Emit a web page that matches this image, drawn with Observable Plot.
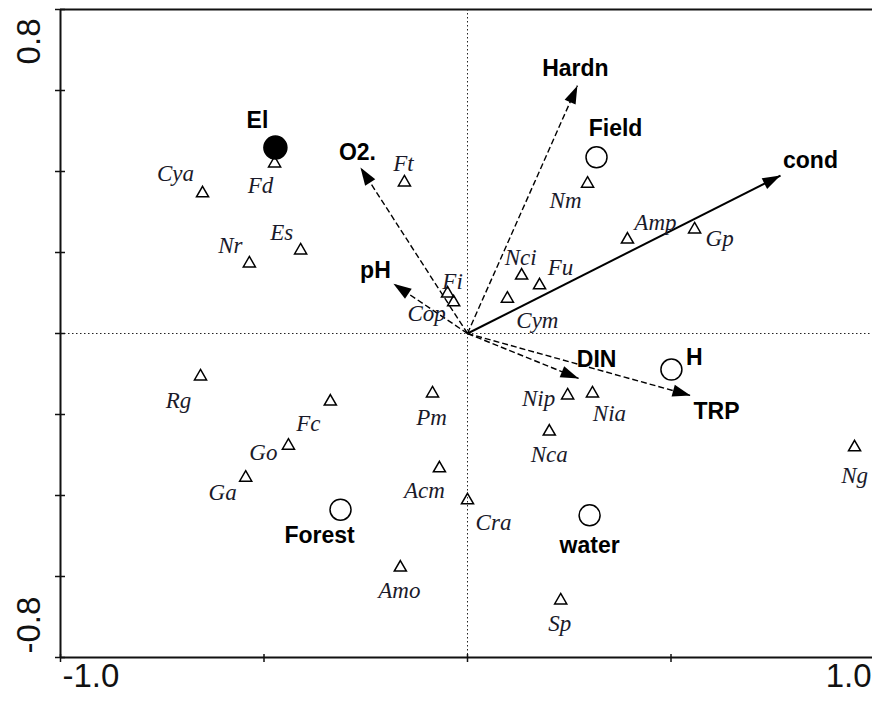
<!DOCTYPE html>
<html>
<head>
<meta charset="utf-8">
<script src="https://cdn.jsdelivr.net/npm/d3@7"></script>
<script src="https://cdn.jsdelivr.net/npm/@observablehq/plot@0.6"></script>
<style>
html, body { margin: 0; padding: 0; background: #fff; overflow: hidden; }
</style>
</head>
<body>
<div id="chart"></div>
<script>
// ---------- DATA ----------
// Species scores (axis 1, axis 2)
const speciesNames = ["Cya","Fd","Nr","Es","Ft","Fi","Cop","Nci","Fu","Cym","Nm","Amp","Gp","Rg","Fc","Go","Ga","Pm","Acm","Cra","Amo","Sp","Nip","Nia","Nca","Ng"];
const speciesAx1 = [-0.651,-0.474,-0.536,-0.410,-0.155,-0.049,-0.034,0.133,0.177,0.098,0.295,0.393,0.558,-0.656,-0.337,-0.440,-0.545,-0.086,-0.069,0.000,-0.165,0.229,0.246,0.307,0.201,0.951];
const speciesAx2 = [0.346,0.420,0.173,0.205,0.373,0.099,0.077,0.143,0.119,0.086,0.370,0.232,0.257,-0.106,-0.168,-0.277,-0.356,-0.148,-0.333,-0.412,-0.578,-0.659,-0.153,-0.148,-0.242,-0.281];

// Nominal variables (centroids)
const siteNames = ["El","Field","H","Forest","water"];
const siteAx1 = [-0.472,0.317,0.501,-0.312,0.300];
const siteAx2 = [0.459,0.435,-0.089,-0.435,-0.449];

// Environmental variables (arrow tips)
const envNames = ["cond","Hardn","O2.","pH","DIN","TRP"];
const envAx1 = [0.769,0.270,-0.263,-0.182,0.273,0.548];
const envAx2 = [0.390,0.612,0.410,0.123,-0.111,-0.153];

// Axis ticks and tick labels
const xTicks = [-1,-0.5,0,0.5,1];
const yTicks = [-0.8,-0.6,-0.4,-0.2,0,0.2,0.4,0.6,0.8];
const xTickLabelValues = [-1, 1];
const xTickLabels = ["-1.0","1.0"];
const yTickLabelValues = [-0.8, 0.8];
const yTickLabels = ["-0.8","0.8"];

// ---------- LAYOUT / STYLE ----------
const W = 872, H = 702;
const xDomain = [-1, 1], xRange = [60, 874];
const yDomain = [-0.8, 0.8], yRange = [657, 9];
const sansFont = "'Liberation Sans', Arial, Helvetica, sans-serif";
const serifFont = "'Liberation Serif', 'Times New Roman', serif";

const speciesLabelOffset = {
  Cya:[-27,-20], Fd:[-14,22], Nr:[-19,-18], Es:[-19,-18], Ft:[-1,-19], Fi:[5,-12], Cop:[-27,11],
  Nci:[-1,-18], Fu:[21,-18], Cym:[30,22], Nm:[-22,17], Amp:[28,-17], Gp:[25,9], Rg:[-22,24],
  Fc:[-22,22], Go:[-25,7], Ga:[-23,15], Pm:[-1,24], Acm:[-15,22], Cra:[26,22], Amo:[-1,23],
  Sp:[-1,23], Nip:[-29,3], Nia:[17,20], Nca:[0,23], Ng:[0,28]
};
const siteLabelOffset = { El:[-18,-27], Field:[19,-29], H:[23,-12], Forest:[-21,26], water:[0,30] };
const envLabelOffset = { cond:[30,-15], Hardn:[-2,-17], "O2.":[-3,-15], pH:[-18,-13], DIN:[18,-19], TRP:[26,16] };
const filledSites = new Set(["El"]);
const solidArrows = new Set(["cond"]);

// ---------- BUILD ----------
const species = speciesNames.map((n, i) => ({name: n, x: speciesAx1[i], y: speciesAx2[i]}));
const sites = siteNames.map((n, i) => ({name: n, x: siteAx1[i], y: siteAx2[i]}));
const env = envNames.map((n, i) => ({name: n, x: envAx1[i], y: envAx2[i]}));

const xs = Plot.scale({x: {domain: xDomain, range: xRange}});
const ys = Plot.scale({y: {domain: yDomain, range: yRange}});
const headAngle = d => {
  const dx = xs.apply(d.x) - xs.apply(0);
  const dy = ys.apply(d.y) - ys.apply(0);
  return Math.atan2(dx, -dy) * 180 / Math.PI;
};
const arrowHead = {
  draw(ctx) {
    const L = 18, w = 6;
    ctx.moveTo(0, 0);
    ctx.lineTo(w, L);
    ctx.lineTo(-w, L);
    ctx.closePath();
  }
};

const marks = [
  // zero reference lines
  Plot.ruleX([0], {stroke: "#222", strokeWidth: 1, strokeDasharray: "1.5,2.5"}),
  Plot.ruleY([0], {stroke: "#222", strokeWidth: 1, strokeDasharray: "1.5,2.5"}),
  // frame lines (left, bottom, top)
  Plot.ruleX([xDomain[0]], {stroke: "#111", strokeWidth: 2}),
  Plot.ruleY([yDomain[0]], {stroke: "#111", strokeWidth: 2}),
  Plot.ruleY([yDomain[1]], {stroke: "#111", strokeWidth: 2}),
  // ticks
  Plot.axisX({ticks: xTicks, tickSize: 8, dy: -3, tickFormat: () => "", label: null, stroke: "#111", strokeWidth: 1.5}),
  Plot.axisY({ticks: yTicks, tickSize: 10, dx: 5, tickFormat: () => "", label: null, stroke: "#111", strokeWidth: 1.5}),
  // tick labels
  Plot.text([0], {x: () => xTickLabelValues[0], frameAnchor: "bottom", text: () => xTickLabels[0], textAnchor: "start", dx: 2, dy: 29, fontSize: 33, fill: "#111"}),
  Plot.text([0], {x: () => xTickLabelValues[1], frameAnchor: "bottom", text: () => xTickLabels[1], textAnchor: "end", dx: -3, dy: 29, fontSize: 33, fill: "#111"}),
  Plot.text([0], {y: () => yTickLabelValues[1], frameAnchor: "left", text: () => yTickLabels[1], rotate: -90, textAnchor: "end", dx: -31, dy: 9, fontSize: 33, fill: "#111"}),
  Plot.text([0], {y: () => yTickLabelValues[0], frameAnchor: "left", text: () => yTickLabels[0], rotate: -90, textAnchor: "start", dx: -31, dy: -4, fontSize: 33, fill: "#111"}),
  // environmental arrows
  Plot.link(env.filter(d => solidArrows.has(d.name)), {x1: () => 0, y1: () => 0, x2: "x", y2: "y", stroke: "#000", strokeWidth: 2}),
  Plot.link(env.filter(d => !solidArrows.has(d.name)), {x1: () => 0, y1: () => 0, x2: "x", y2: "y", stroke: "#000", strokeWidth: 1.4, strokeDasharray: "6,3"}),
  Plot.dot(env, {x: "x", y: "y", symbol: arrowHead, rotate: headAngle, fill: "#000", stroke: "none", r: 5}),
  // species triangles
  Plot.dot(species, {x: "x", y: "y", symbol: "triangle", r: 4.5, stroke: "#000", strokeWidth: 1.5, fill: "none"}),
  // nominal circles
  Plot.dot(sites.filter(d => !filledSites.has(d.name)), {x: "x", y: "y", symbol: "circle", r: 10.5, stroke: "#000", strokeWidth: 1.5, fill: "none"}),
  Plot.dot(sites.filter(d => filledSites.has(d.name)), {x: "x", y: "y", symbol: "circle", r: 11.5, stroke: "#000", strokeWidth: 1.5, fill: "#000"}),
  // species labels
  ...species.map(d => Plot.text([d], {x: "x", y: "y", text: "name", dx: speciesLabelOffset[d.name][0], dy: speciesLabelOffset[d.name][1], fontFamily: serifFont, fontStyle: "italic", fontSize: 23, fill: "#1a1a2a"})),
  // site labels
  ...sites.map(d => Plot.text([d], {x: "x", y: "y", text: "name", dx: siteLabelOffset[d.name][0], dy: siteLabelOffset[d.name][1], fontFamily: sansFont, fontWeight: "bold", fontSize: 23, fill: "#000"})),
  // env labels
  ...env.map(d => Plot.text([d], {x: "x", y: "y", text: "name", dx: envLabelOffset[d.name][0], dy: envLabelOffset[d.name][1], fontFamily: sansFont, fontWeight: "bold", fontSize: 23, fill: "#000"}))
];

const chart = Plot.plot({
  width: W,
  height: H,
  marginLeft: 60,
  marginRight: 0,
  marginTop: 9,
  marginBottom: 45,
  x: {domain: xDomain, range: xRange, axis: null},
  y: {domain: yDomain, range: yRange, axis: null},
  style: {fontFamily: sansFont, background: "#fff", color: "#111"},
  marks
});
document.getElementById("chart").appendChild(chart);
</script>
</body>
</html>
